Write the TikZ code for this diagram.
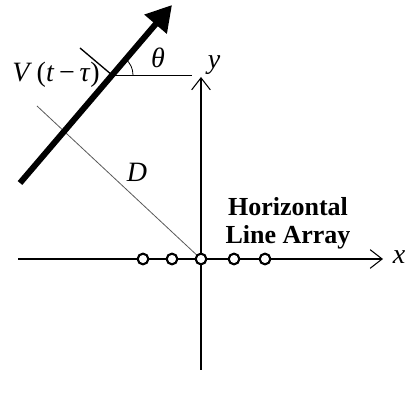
\documentclass[tikz,border=0pt]{standalone}
\usepackage{fontspec}
\setmainfont{Liberation Serif}
\usetikzlibrary{arrows.meta}
\tikzset{
  axisline/.style={line width=0.8pt,-{Straight Barb[length=9pt,width=14pt,line width=0.8pt]}},
  sensor/.style={circle,draw,fill=white,line width=1.6pt,minimum size=8pt,inner sep=0pt},
  wave/.style={line width=4.5pt,-{Triangle[length=19pt,width=21pt]}},
  thinline/.style={line width=0.6pt},
  lbl/.style={font=\fontsize{21}{23}\selectfont,inner sep=0pt}
}
\begin{document}
\begin{tikzpicture}[x=0.75pt,y=0.75pt]
    \useasboundingbox (0,0) rectangle (408,400);
    % Reference points
    \coordinate (O) at (201,141);
    \coordinate (xstart) at (18,141);
    \coordinate (xend) at (383,141);
    \coordinate (ystart) at (201,30);
    \coordinate (yend) at (201,323);
    \coordinate (wtail) at (20,217);
    \coordinate (whead) at (172,395);
    \coordinate (P) at (112,325);
    \coordinate (href) at (192,325);
    \coordinate (perp) at (80,352);
    \coordinate (dstart) at (37,294);

    % D line and wavefront reference
    \draw[thinline,gray!70!black] (dstart) -- (O);
    \draw[thinline] (P) -- (href);
    \draw[line width=1pt] (perp) -- (P);
    \draw[thinline] (P) ++(21,0) arc[start angle=0,end angle=49,radius=15.75pt];

    % Axes
    \draw[axisline] (xstart) -- (xend);
    \draw[axisline] (ystart) -- (yend);

    % Plane wave direction
    \draw[wave] (wtail) -- (whead);

    % Sensors
    \foreach \xs [count=\i] in {143,172,201,234,265}
        \node[sensor] (s\i) at (\xs,141) {};

    % Labels
    \node[lbl] (xlab) at (399,143) {\textit{x}};
    \node[lbl] (ylab) at (214,335) {\textit{y}};
    \node[lbl] (thlab) at (158,342) {\textit{θ}};
    \node[lbl] (dlab) at (137,228) {\textit{D}};
    \node[lbl] (vlab) at (56,325) {\textit{V}\,(\textit{t}\,−\,\textit{τ})};
    \node[lbl,font=\fontsize{19.5}{21}\selectfont\bfseries,align=center] (arr) at (288,177) {Horizontal\\Line Array};
\end{tikzpicture}
\end{document}
